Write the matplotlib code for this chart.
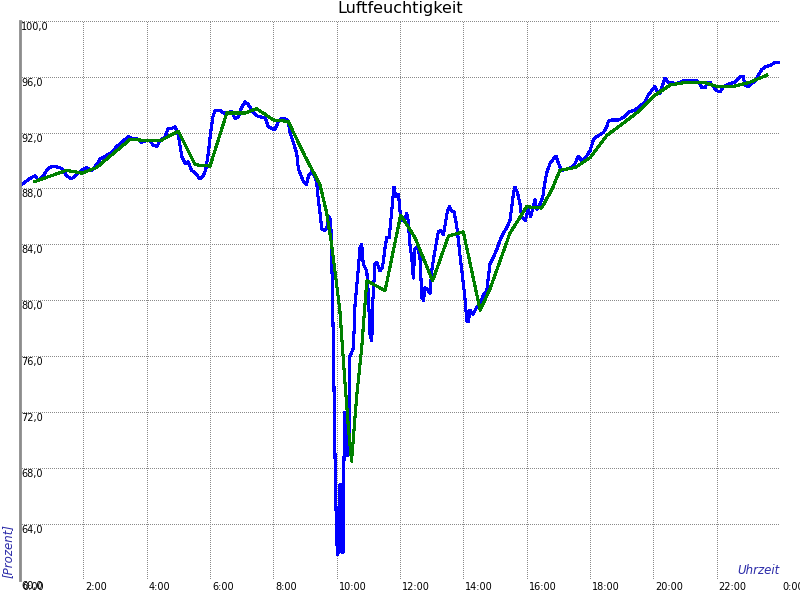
import matplotlib
matplotlib.use("Agg")
import matplotlib.pyplot as plt
from matplotlib.transforms import offset_copy

# === DATA ===
# blue: raw humidity readings (hour of day, percent)
raw_hours = [
    0.00, 0.37, 0.47, 0.58, 0.74, 0.84, 1.00, 1.26, 1.37, 1.47, 1.63, 1.74, 1.95, 2.11, 2.26,
    2.42, 2.53, 2.68, 2.84, 2.95, 3.05, 3.16, 3.26, 3.37, 3.42, 3.53, 3.68, 3.84, 3.95, 4.11,
    4.21, 4.32, 4.42, 4.58, 4.68, 4.79, 4.89, 4.95, 5.00, 5.11, 5.21, 5.31, 5.42, 5.53, 5.68,
    5.79, 5.87, 5.95, 6.02, 6.09, 6.16, 6.32, 6.42, 6.53, 6.68, 6.79, 6.89, 7.00, 7.11, 7.21,
    7.32, 7.47, 7.63, 7.74, 7.84, 7.95, 8.05, 8.16, 8.26, 8.37, 8.47, 8.53, 8.63, 8.74, 8.79,
    8.90, 8.95, 9.05, 9.11, 9.21, 9.32, 9.37, 9.42, 9.47, 9.53, 9.63, 9.69, 9.74, 9.81, 9.84,
    9.89, 9.95, 9.98, 10.02, 10.07, 10.10, 10.13, 10.15, 10.21, 10.23, 10.26, 10.32, 10.35,
    10.39, 10.42, 10.53, 10.58, 10.65, 10.74, 10.79, 10.84, 10.95, 11.00, 11.05, 11.11, 11.14,
    11.21, 11.27, 11.37, 11.45, 11.53, 11.58, 11.66, 11.68, 11.74, 11.81, 11.87, 11.95, 12.00,
    12.05, 12.16, 12.21, 12.26, 12.32, 12.37, 12.42, 12.47, 12.55, 12.63, 12.69, 12.74, 12.79,
    12.86, 12.95, 13.00, 13.07, 13.16, 13.21, 13.29, 13.37, 13.44, 13.49, 13.56, 13.63, 13.71,
    13.76, 13.81, 13.89, 13.98, 14.05, 14.11, 14.16, 14.21, 14.31, 14.42, 14.53, 14.61, 14.74,
    14.84, 14.95, 15.05, 15.16, 15.26, 15.37, 15.47, 15.53, 15.58, 15.63, 15.71, 15.79, 15.84,
    15.95, 16.00, 16.05, 16.13, 16.26, 16.32, 16.42, 16.51, 16.55, 16.63, 16.74, 16.84, 16.93,
    17.00, 17.11, 17.26, 17.42, 17.53, 17.63, 17.74, 17.89, 18.00, 18.11, 18.21, 18.42, 18.53,
    18.58, 18.68, 18.89, 19.00, 19.11, 19.26, 19.42, 19.58, 19.74, 19.84, 19.95, 20.05, 20.11,
    20.21, 20.26, 20.37, 20.47, 20.74, 20.95, 21.37, 21.47, 21.53, 21.63, 21.69, 21.79, 21.89,
    22.00, 22.11, 22.21, 22.42, 22.58, 22.74, 22.84, 22.89, 23.00, 23.11, 23.21, 23.32, 23.42,
    23.53, 23.68, 23.84, 23.98,
]
raw_values = [
    88.2, 88.8, 88.9, 88.6, 88.9, 89.3, 89.6, 89.5, 89.3, 88.9, 88.7, 88.9, 89.3, 89.5, 89.3,
    89.7, 90.1, 90.3, 90.5, 90.7, 91.0, 91.2, 91.4, 91.6, 91.7, 91.6, 91.6, 91.3, 91.4, 91.4,
    91.1, 91.0, 91.4, 91.7, 92.3, 92.3, 92.4, 92.2, 91.8, 90.3, 89.8, 89.9, 89.3, 89.1, 88.7,
    88.9, 89.4, 90.6, 92.0, 93.1, 93.6, 93.6, 93.4, 93.4, 93.5, 93.0, 93.1, 93.8, 94.2, 94.0,
    93.6, 93.2, 93.1, 93.1, 92.4, 92.3, 92.2, 92.8, 93.0, 93.0, 92.8, 92.0, 91.3, 90.5, 89.4,
    88.8, 88.5, 88.3, 88.9, 89.2, 88.8, 88.4, 87.2, 86.3, 85.1, 85.0, 85.2, 86.0, 85.8, 83.6,
    77.6, 68.5, 65.0, 61.8, 62.0, 66.8, 66.8, 62.0, 62.0, 68.5, 72.0, 71.5, 68.9,
    69.5, 76.0, 76.6, 79.7, 81.4, 83.8, 84.0, 82.6, 82.1, 80.5, 77.6, 77.1, 79.9,
    82.6, 82.7, 82.1, 82.4, 83.8, 84.5, 84.5, 85.0, 86.4, 88.1, 87.4, 87.6, 86.4,
    85.7, 85.8, 86.2, 85.7, 83.8, 83.1, 81.6, 83.7, 83.8, 83.1, 80.2, 80.0, 80.9,
    80.8, 80.5, 82.1, 83.1, 84.3, 84.9, 85.0, 84.7, 85.6, 86.3, 86.7, 86.4, 86.3,
    85.7, 85.0, 83.3, 81.6, 80.2, 78.5, 78.5, 79.3, 79.0, 79.5, 79.7, 80.3, 80.7,
    82.6, 83.1, 83.6, 84.3, 84.8, 85.2, 85.7, 86.7, 87.6, 88.1, 87.7, 86.9, 86.0,
    85.7, 86.1, 86.5, 86.0, 87.2, 86.5, 86.9, 87.4, 88.1, 89.1, 89.8, 90.1, 90.3,
    89.8, 89.3, 89.4, 89.5, 89.8, 90.3, 90.0, 90.3, 90.7, 91.5, 91.7, 92.0, 92.4,
    92.8, 92.9, 92.9, 93.0, 93.2, 93.5, 93.6, 93.9, 94.2, 94.7, 95.0, 95.3, 95.0,
    94.8, 95.2, 95.9, 95.6, 95.5, 95.7, 95.7, 95.5, 95.2, 95.2, 95.5, 95.6, 95.3,
    95.0, 94.9, 95.3, 95.5, 95.6, 96.0, 96.0, 95.4, 95.3, 95.5, 95.7, 96.1, 96.5,
    96.7, 96.8, 97.0, 97.0,
]

# green: smoothed curve
avg_hours = [
    0.47, 1.47, 1.95, 2.42, 2.84, 3.47, 4.42, 5.00, 5.53, 6.00, 6.53, 7.11, 7.47, 7.68,
    8.00, 8.47, 9.00, 9.47, 9.68, 9.84, 10.10, 10.26, 10.37, 10.47, 10.63, 10.79, 10.95,
    11.53, 12.02, 12.47, 13.03, 13.53, 14.00, 14.53, 14.84, 15.47, 16.00, 16.47, 16.79,
    17.05, 17.53, 18.00, 18.53, 18.95, 19.47, 20.00, 20.53, 21.05, 21.58, 22.00, 22.53,
    23.05, 23.58,
]
avg_values = [
    88.5, 89.3, 89.1, 89.5, 90.3, 91.5, 91.4, 92.1, 89.7, 89.6, 93.4, 93.4, 93.7, 93.4,
    92.9, 92.8, 90.3, 88.3, 86.3, 84.0, 79.3, 74.2, 70.9, 68.5, 73.1, 76.6, 81.4,
    80.7, 86.1, 84.5, 81.4, 84.6, 84.9, 79.3, 80.8, 84.8, 86.7, 86.6, 87.9,
    89.3, 89.5, 90.2, 91.8, 92.5, 93.4, 94.6, 95.4, 95.6, 95.6, 95.3, 95.3,
    95.6, 96.1,
]

y_ticks = [60, 64, 68, 72, 76, 80, 84, 88, 92, 96, 100]
x_ticks = [0, 2, 4, 6, 8, 10, 12, 14, 16, 18, 20, 22, 24]
x_labels = ["0:00", "2:00", "4:00", "6:00", "8:00", "10:00", "12:00", "14:00",
            "16:00", "18:00", "20:00", "22:00", "0:00"]

# === PLOT ===
fig = plt.figure(figsize=(8, 6), dpi=100)
ax = fig.add_axes([0.025, 0.0333, 0.95, 0.9322])

ax.plot(raw_hours, raw_values, color="#0000ff", linewidth=1.5, antialiased=False)
ax.plot(avg_hours, avg_values, color="#008000", linewidth=1.5, antialiased=False)

ax.set_xlim(0, 24)
ax.set_ylim(60, 100)
ax.set_xticks(x_ticks)
ax.set_yticks(y_ticks)
ax.set_xticklabels([])
ax.set_yticklabels([])
ax.tick_params(length=0)
# crisp 1px on / 2px off dotted grid
ax.grid(True, color="#8a8a8a", linestyle=(0, (1, 2)), linewidth=0.72, antialiased=False)

for side in ["top", "right", "bottom"]:
    ax.spines[side].set_visible(False)
ax.spines["left"].set_color("#8c8c8c")
ax.spines["left"].set_linewidth(2)

# y labels inside the plot, under their grid line
ytr = offset_copy(ax.get_yaxis_transform(), fig=fig, x=1, y=-1, units="dots")
for v in y_ticks:
    ax.text(0, v, f"{v:.1f}".replace(".", ","), transform=ytr, ha="left", va="top",
            fontsize=7, color="black", clip_on=False)

# x labels below the axis, left aligned at the tick
xtr = offset_copy(ax.get_xaxis_transform(), fig=fig, x=2, y=-2, units="dots")
for h, lab in zip(x_ticks, x_labels):
    ax.text(h, 0, lab, transform=xtr, ha="left", va="top", fontsize=7,
            color="black", clip_on=False)

fig.text(0.5, 1 - 8 / 600, "Luftfeuchtigkeit", ha="center", va="center", fontsize=11.5)
fig.text(8 / 800, 1 - 578 / 600, "[Prozent]", rotation=90, ha="center", va="bottom",
         fontsize=8.5, style="italic", color="#2a2aa8")
ax.text(1.0, 0.005, "Uhrzeit", transform=ax.transAxes, ha="right", va="bottom",
        fontsize=8.5, style="italic", color="#2a2aa8")

fig.savefig("out.png", dpi=100)
